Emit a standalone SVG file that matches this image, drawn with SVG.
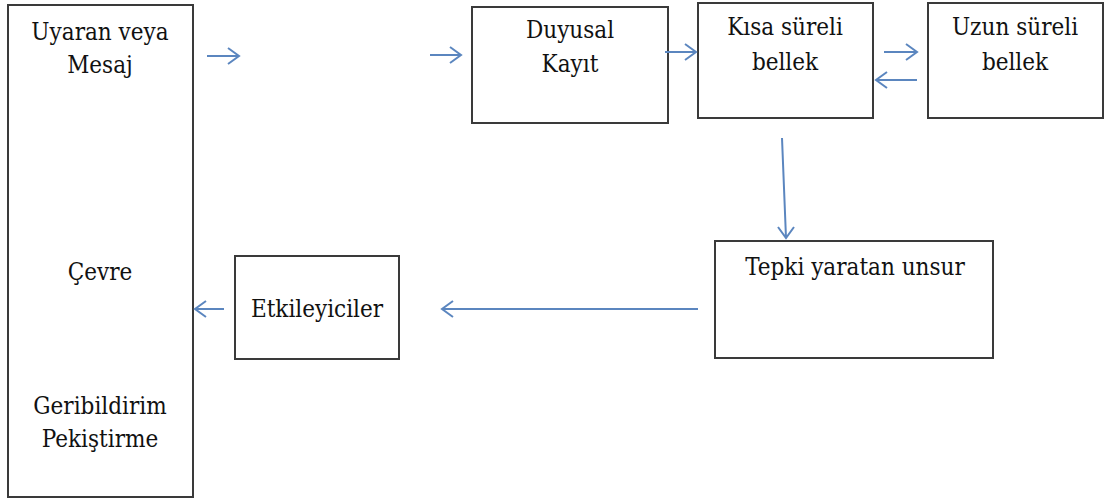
<svg xmlns="http://www.w3.org/2000/svg" width="1105" height="501" viewBox="0 0 1105 501">
<style>
.box{fill:#fff;stroke:#3a3a3a;stroke-width:2}
.t{font-family:"DejaVu Serif Condensed","DejaVu Serif",serif;font-stretch:condensed;font-size:24px;fill:#111;text-anchor:middle}
.c{fill:none;stroke:#5b86bf;stroke-width:2}
</style>
<g id="node-cevre">
<rect class="box" x="8" y="5" width="185" height="492"/>
<text class="t" x="100" y="40">Uyaran veya</text>
<text class="t" x="100" y="73">Mesaj</text>
<text class="t" x="100" y="280">Çevre</text>
<text class="t" x="100" y="414">Geribildirim</text>
<text class="t" x="100" y="447">Pekiştirme</text>
</g>
<g id="node-duyusal">
<rect class="box" x="472" y="7" width="196" height="116"/>
<text class="t" x="570" y="38">Duyusal</text>
<text class="t" x="570" y="72">Kayıt</text>
</g>
<g id="node-kisa">
<rect class="box" x="698" y="3" width="175" height="115"/>
<text class="t" x="785" y="35">Kısa süreli</text>
<text class="t" x="785" y="70">bellek</text>
</g>
<g id="node-uzun">
<rect class="box" x="928" y="3" width="175" height="115"/>
<text class="t" x="1015" y="35">Uzun süreli</text>
<text class="t" x="1015" y="70">bellek</text>
</g>
<g id="node-tepki">
<rect class="box" x="715" y="241" width="278" height="117"/>
<text class="t" x="855" y="275">Tepki yaratan unsur</text>
</g>
<g id="node-etki">
<rect class="box" x="235" y="256" width="164" height="103"/>
<text class="t" x="317" y="317">Etkileyiciler</text>
</g>
<g id="connectors">
<path class="c" d="M207,56 H239 M228,48 L239,56 L228,64"/>
<path class="c" d="M430,55 H461 M450,47 L461,55 L450,63"/>
<path class="c" d="M665,52 H696 M685,44 L696,52 L685,60"/>
<path class="c" d="M884,52 H917 M906,44 L917,52 L906,60"/>
<path class="c" d="M917,80 H876 M887,72 L876,80 L887,88"/>
<path class="c" d="M782,138 L786,238 M778,227 L786,238 L794,227"/>
<path class="c" d="M698,309 H442 M453,301 L442,309 L453,317"/>
<path class="c" d="M224,309 H195 M206,301 L195,309 L206,317"/>
</g>
</svg>
